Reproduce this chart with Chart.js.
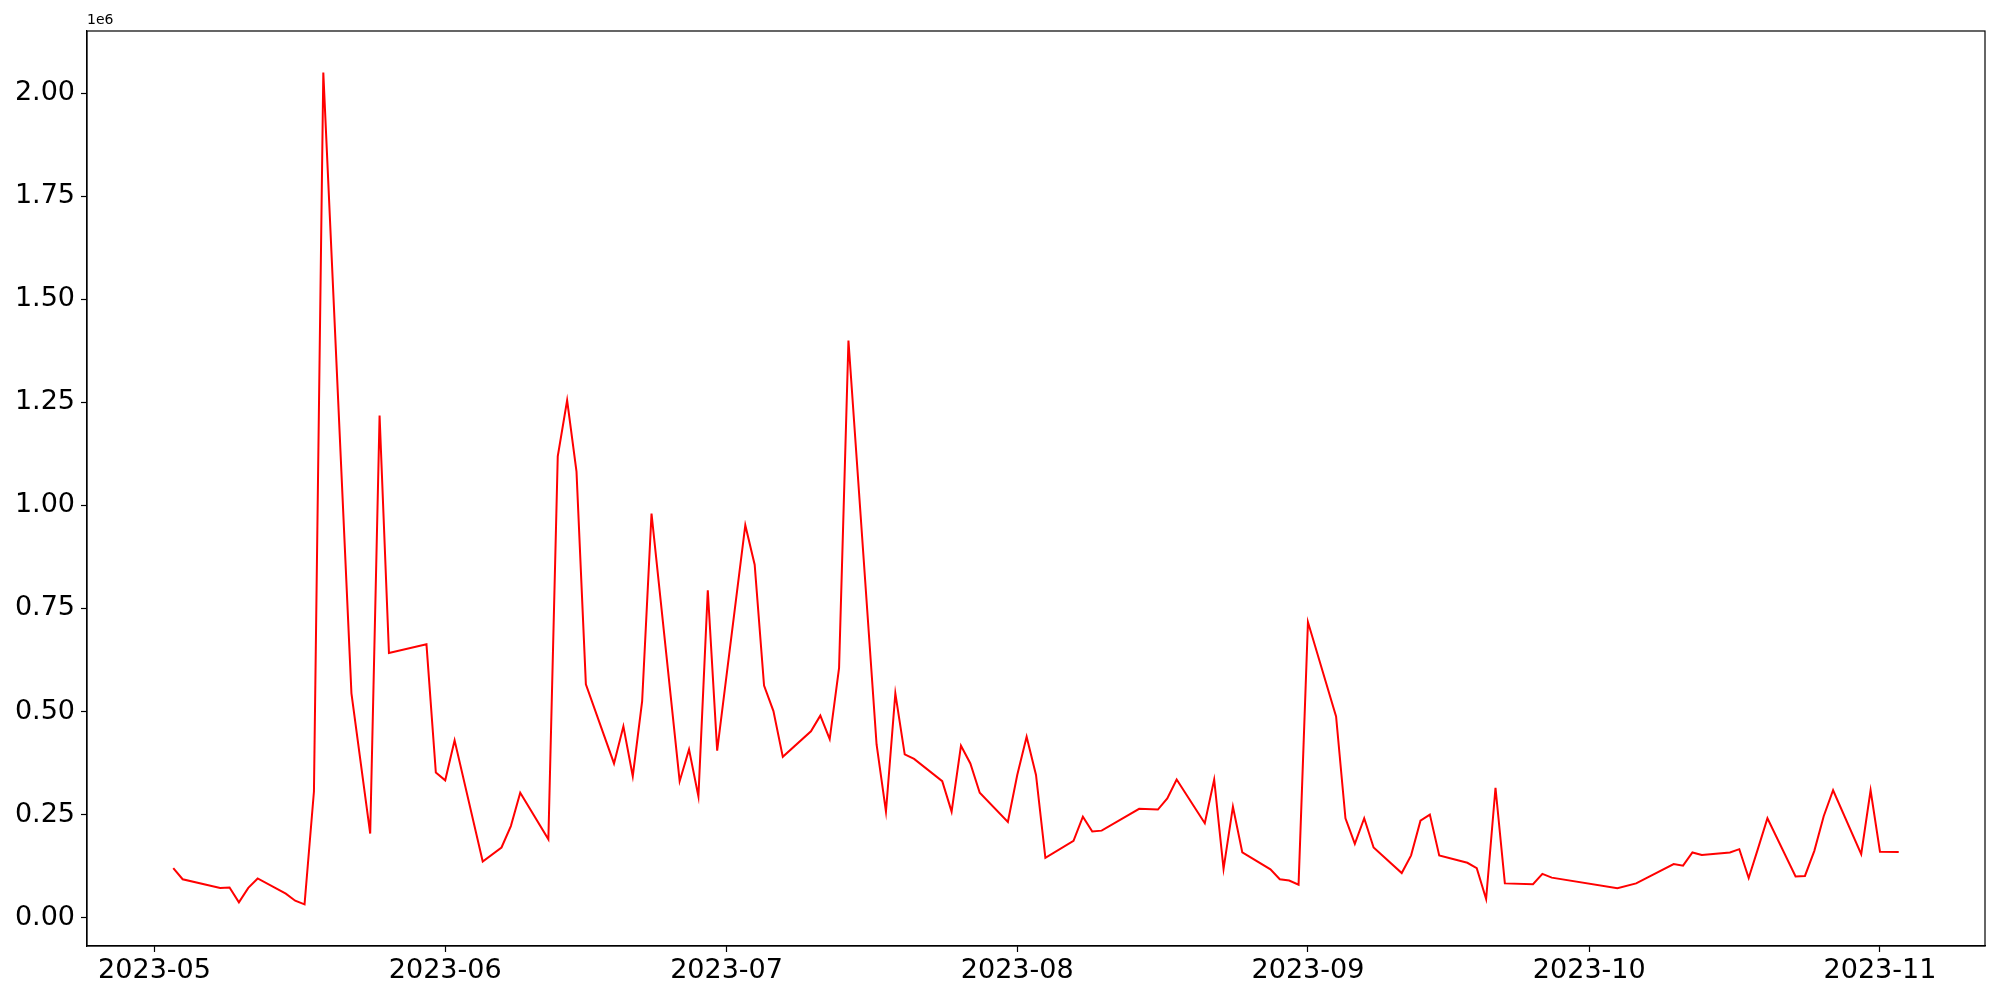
<!DOCTYPE html>
<html>
<head>
<meta charset="utf-8">
<script src="https://cdn.jsdelivr.net/npm/chart.js@4.4.0/dist/chart.umd.min.js"></script>
<style>
    html, body { margin: 0; padding: 0; background: #ffffff; }
    canvas { display: block; }
</style>
</head>
<body>
<canvas id="chartCanvas" width="2000" height="1000"></canvas>
<script>
// ================= DATA =================

const dates = [
    "2023-05-03", "2023-05-04", "2023-05-08", "2023-05-09", "2023-05-10", "2023-05-11", "2023-05-12",
    "2023-05-15", "2023-05-16", "2023-05-17", "2023-05-18", "2023-05-19", "2023-05-22", "2023-05-24",
    "2023-05-25", "2023-05-26", "2023-05-30", "2023-05-31",
    "2023-06-01", "2023-06-02", "2023-06-05", "2023-06-07", "2023-06-08", "2023-06-09", "2023-06-12",
    "2023-06-13", "2023-06-14", "2023-06-15", "2023-06-16", "2023-06-19", "2023-06-20", "2023-06-21",
    "2023-06-22", "2023-06-23", "2023-06-26", "2023-06-27", "2023-06-28", "2023-06-29", "2023-06-30",
    "2023-07-03", "2023-07-04", "2023-07-05", "2023-07-06", "2023-07-07", "2023-07-10", "2023-07-11",
    "2023-07-12", "2023-07-13", "2023-07-14", "2023-07-17", "2023-07-18", "2023-07-19", "2023-07-20",
    "2023-07-21", "2023-07-24", "2023-07-25", "2023-07-26", "2023-07-27", "2023-07-28", "2023-07-31",
    "2023-08-01", "2023-08-02", "2023-08-03", "2023-08-04", "2023-08-07", "2023-08-08", "2023-08-09",
    "2023-08-10", "2023-08-14", "2023-08-16", "2023-08-17", "2023-08-18", "2023-08-21", "2023-08-22",
    "2023-08-23", "2023-08-24", "2023-08-25", "2023-08-28", "2023-08-29", "2023-08-30", "2023-08-31",
    "2023-09-01", "2023-09-04", "2023-09-05", "2023-09-06", "2023-09-07", "2023-09-08", "2023-09-11",
    "2023-09-12", "2023-09-13", "2023-09-14", "2023-09-15", "2023-09-18", "2023-09-19", "2023-09-20",
    "2023-09-21", "2023-09-22", "2023-09-25", "2023-09-26", "2023-09-27",
    "2023-10-04", "2023-10-06", "2023-10-10", "2023-10-11", "2023-10-12", "2023-10-13", "2023-10-16",
    "2023-10-17", "2023-10-18", "2023-10-19", "2023-10-20", "2023-10-23", "2023-10-24", "2023-10-25",
    "2023-10-26", "2023-10-27", "2023-10-30", "2023-10-31",
    "2023-11-01", "2023-11-03"
];

const values = [
    120000, 93000, 72000, 73000, 37000, 72000, 95000,
    58000, 41000, 32000, 306000, 2050000, 544000, 204000,
    1218000, 642000, 663000, 352000,
    333000, 430000, 136000, 170000, 222000, 303000, 190000,
    1119000, 1255000, 1082000, 566000, 374000, 464000, 343000,
    525000, 980000, 331000, 408000, 294000, 794000, 405000,
    952000, 856000, 563000, 501000, 390000, 452000, 490000,
    433000, 606000, 1400000, 420000, 257000, 544000, 396000,
    385000, 331000, 257000, 417000, 374000, 303000, 232000,
    346000, 439000, 346000, 145000, 186000, 245000, 209000,
    211000, 264000, 262000, 289000, 335000, 229000, 335000,
    118000, 269000, 158000, 117000, 93000, 90000, 80000,
    717000, 488000, 241000, 179000, 241000, 170000, 108000,
    151000, 235000, 250000, 151000, 133000, 120000, 45000,
    315000, 83000, 81000, 106000, 97000,
    71000, 83000, 130000, 126000, 158000, 152000, 158000,
    166000, 96000, 168000, 241000, 100000, 101000, 162000,
    246000, 309000, 154000, 309000,
    160000, 159000
];

const monthTicks = ["2023-05-01", "2023-06-01", "2023-07-01", "2023-08-01", "2023-09-01", "2023-10-01", "2023-11-01"];
const yTicks = [0, 250000, 500000, 750000, 1000000, 1250000, 1500000, 1750000, 2000000];

// ================= HELPERS =================

const DAY = 86400000;
const toMs = s => Date.parse(s + "T00:00:00Z");

const points = dates.map((d, i) => ({ x: toMs(d), y: values[i] }));

// matplotlib style 5% margins
const xMinData = toMs(dates[0]);
const xMaxData = toMs(dates[dates.length - 1]);
const xPad = (xMaxData - xMinData) * 0.05;
const yMinData = Math.min(...values);
const yMaxData = Math.max(...values);
const yPad = (yMaxData - yMinData) * 0.05;

const FONT = "'DejaVu Sans', sans-serif";

// ================= PLUGINS =================

const frame = {
    id: "frame",
    afterDraw(c) {
        const a = c.chartArea;
        const ctx = c.ctx;
        ctx.save();
        ctx.strokeStyle = "#000000";
        ctx.lineWidth = 1.2;
        ctx.strokeRect(a.left, a.top, a.right - a.left, a.bottom - a.top);

        // offset text
        ctx.fillStyle = "#000000";
        ctx.font = "14px " + FONT;
        ctx.textAlign = "left";
        ctx.textBaseline = "bottom";
        ctx.fillText("1e6", a.left, a.top - 4);
        ctx.restore();
    }
};

// ================= CHART =================

new Chart(document.getElementById("chartCanvas"), {
    type: "line",
    data: {
        datasets: [{
            data: points,
            borderColor: "#ff0000",
            borderWidth: 2,
            pointRadius: 0,
            tension: 0,
            fill: false
        }]
    },
    options: {
        responsive: false,
        animation: false,
        layout: { padding: { left: 0, top: 31, right: 15, bottom: 0 } },
        plugins: {
            legend: { display: false },
            tooltip: { enabled: false }
        },
        scales: {
            x: {
                type: "linear",
                min: xMinData - xPad,
                max: xMaxData + xPad,
                afterBuildTicks: s => { s.ticks = monthTicks.map(m => ({ value: toMs(m) })); },
                afterFit: s => { s.height = 54; },
                grid: { drawOnChartArea: false, tickLength: 6, tickColor: "#000000", tickWidth: 1.2 },
                border: { color: "#000000", width: 1.2 },
                ticks: {
                    color: "#000000",
                    font: { family: FONT, size: 27 },
                    padding: 3,
                    maxRotation: 0,
                    autoSkip: false,
                    callback: v => new Date(v).toISOString().slice(0, 7)
                }
            },
            y: {
                min: yMinData - yPad,
                max: yMaxData + yPad,
                afterBuildTicks: s => { s.ticks = yTicks.map(v => ({ value: v })); },
                afterFit: s => { s.width = 87; },
                grid: { drawOnChartArea: false, tickLength: 6, tickColor: "#000000", tickWidth: 1.2 },
                border: { color: "#000000", width: 1.2 },
                ticks: {
                    color: "#000000",
                    font: { family: FONT, size: 27 },
                    padding: 6,
                    autoSkip: false,
                    callback: v => (v / 1e6).toFixed(2)
                }
            }
        }
    },
    plugins: [frame]
});
</script>
</body>
</html>
